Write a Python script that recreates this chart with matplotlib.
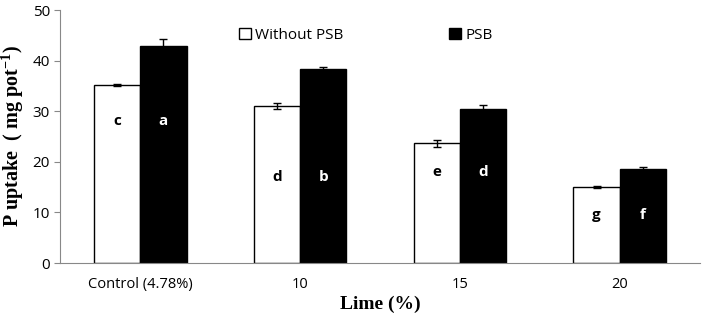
import numpy as np
import matplotlib
matplotlib.use("Agg")
import matplotlib.pyplot as plt

categories = ["Control (4.78%)", "10", "15", "20"]
without_psb = [35.2, 31.0, 23.7, 15.1]
without_err = [0.2, 0.6, 0.7, 0.2]
with_psb = [42.9, 38.4, 30.4, 18.6]
with_err = [1.3, 0.4, 0.8, 0.4]
letters_without = ["c", "d", "e", "g"]
letters_with = ["a", "b", "d", "f"]
letter_y_without = [28, 17, 18, 9.5]
letter_y_with = [28, 17, 18, 9.5]

plt.rcParams['font.family'] = ['Open Sans', 'DejaVu Sans']
plt.rcParams['mathtext.fontset'] = 'custom'
plt.rcParams['mathtext.rm'] = 'Liberation Serif'
plt.rcParams['mathtext.bf'] = 'Liberation Serif:bold'

fig = plt.figure(figsize=(7.09, 3.26), dpi=100)
ax = fig.add_axes([0.085, 0.193, 0.902, 0.776])

x = np.arange(len(categories))
w = 0.29
ax.bar(x - w / 2, without_psb, w, color='white', edgecolor='black', linewidth=1.0,
       yerr=without_err, capsize=3, error_kw={'elinewidth': 1, 'capthick': 1},
       label='Without PSB', zorder=2)
ax.bar(x + w / 2, with_psb, w, color='black', edgecolor='black', linewidth=1.0,
       yerr=with_err, capsize=3, error_kw={'elinewidth': 1, 'capthick': 1},
       label='PSB', zorder=2)

for i in range(len(categories)):
    ax.text(x[i] - w / 2, letter_y_without[i], letters_without[i], ha='center', va='center',
            fontsize=11, fontweight='bold', color='black')
    ax.text(x[i] + w / 2, letter_y_with[i], letters_with[i], ha='center', va='center',
            fontsize=11, fontweight='bold', color='white')

ax.set_xlim(-0.5, 3.5)
ax.set_ylim(0, 50)
ax.set_yticks([0, 10, 20, 30, 40, 50])
ax.set_xticks(x)
ax.set_xticklabels(categories)
ax.tick_params(axis='x', length=0, labelsize=10.5, pad=10)
ax.tick_params(axis='y', labelsize=11, color='#888888', length=4)

for s in ['top', 'right']:
    ax.spines[s].set_visible(False)
for s in ['left', 'bottom']:
    ax.spines[s].set_color('#888888')

ax.set_ylabel('P uptake  ( mg pot$^{\\mathbf{-1}}$)', family='Liberation Serif',
              fontsize=14.5, fontweight='bold', labelpad=5)
ax.set_xlabel('Lime (%)', family='Liberation Serif', fontsize=14, fontweight='bold', labelpad=3)

ax.legend(loc='upper center', bbox_to_anchor=(0.478, 0.985), ncol=2, frameon=False,
          fontsize=11, columnspacing=6.9, handlelength=0.75, handleheight=0.75,
          handletextpad=0.3)

fig.savefig('out.png', dpi=100)
